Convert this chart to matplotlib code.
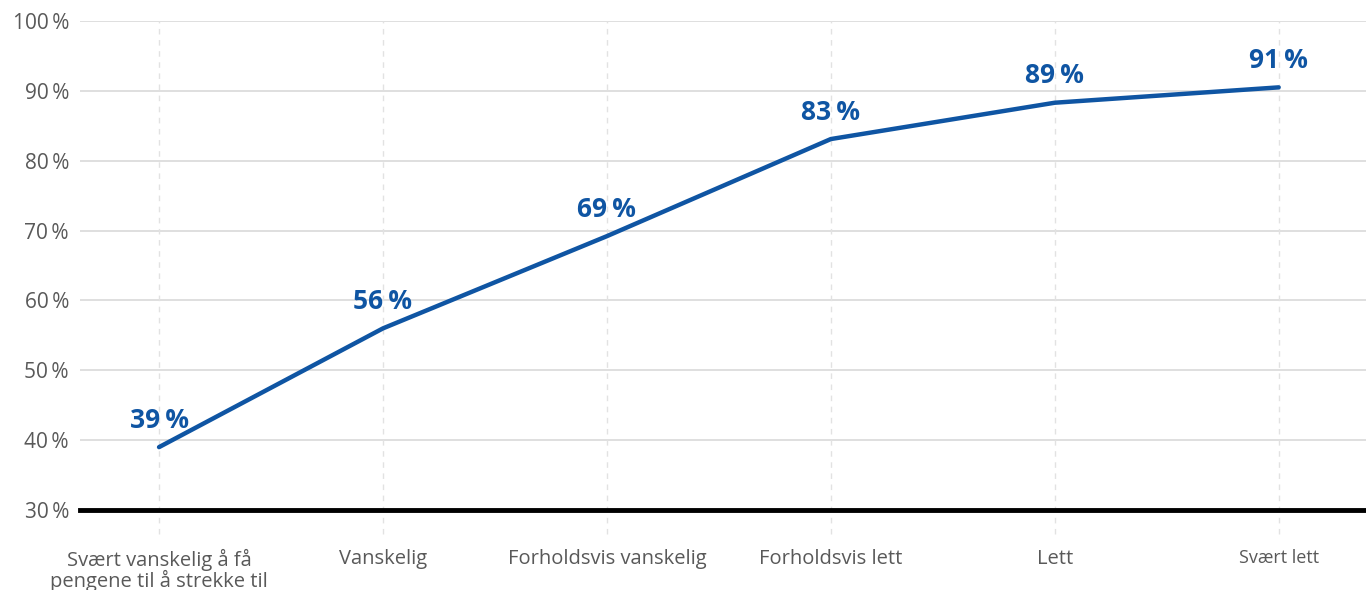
import matplotlib
matplotlib.use("Agg")
import numpy as np
from matplotlib import pyplot as plt

# data
categories = ["Svært vanskelig å få\npengene til å strekke til", "Vanskelig",
              "Forholdsvis vanskelig", "Forholdsvis lett", "Lett", "Svært lett"]
values = [39.0, 56.0, 69.2, 83.1, 88.3, 90.5]
value_labels = ["39\u2009%", "56\u2009%", "69\u2009%", "83\u2009%", "89\u2009%", "91\u2009%"]
yticks = [30, 40, 50, 60, 70, 80, 90, 100]

FONT = ["Open Sans", "DejaVu Sans"]
BLUE = "#0f55a3"
GREY = "#595959"

plt.rcParams["font.family"] = FONT

fig = plt.figure(figsize=(13.66, 5.9), dpi=100)
ax = fig.add_axes([80 / 1366, 80 / 590, 1 - 80 / 1366, 489 / 590])

x = np.arange(len(categories))

# grid
for yv in yticks[1:]:
    ax.axhline(yv, color="#dcdcdc", lw=1.3, zorder=1)
for xv in x:
    ax.axvline(xv, ymin=-0.05, ymax=1.0, color="#e2e2e2", lw=1.0,
               ls=(0, (4, 4)), zorder=1, clip_on=False)
ax.axhline(30, color="black", lw=3.5, zorder=3, clip_on=False)

ax.plot(x, values, color=BLUE, lw=3.2, solid_capstyle="round", zorder=4)
for xi, yi, lab in zip(x, values, value_labels):
    ax.annotate(lab, (xi, yi), xytext=(0, 14), textcoords="offset points",
                ha="center", va="baseline", fontsize=19, fontweight="bold",
                color=BLUE, family=FONT)

ax.set_xlim(-0.353, 5.39)
ax.set_ylim(30, 100)
ax.set_yticks(yticks)
ax.set_yticklabels(["{}\u2009%".format(v) for v in yticks], fontsize=15,
                   color=GREY)
ax.set_xticks(x)
ax.set_xticklabels(categories, fontsize=14.5, color=GREY, linespacing=0.92,
                   va="top")
ax.get_xticklabels()[-1].set_fontsize(13)
ax.tick_params(axis="both", length=0)
ax.tick_params(axis="x", pad=28)
ax.tick_params(axis="y", pad=8)
for s in ax.spines.values():
    s.set_visible(False)

fig.savefig("out.png", dpi=100)
